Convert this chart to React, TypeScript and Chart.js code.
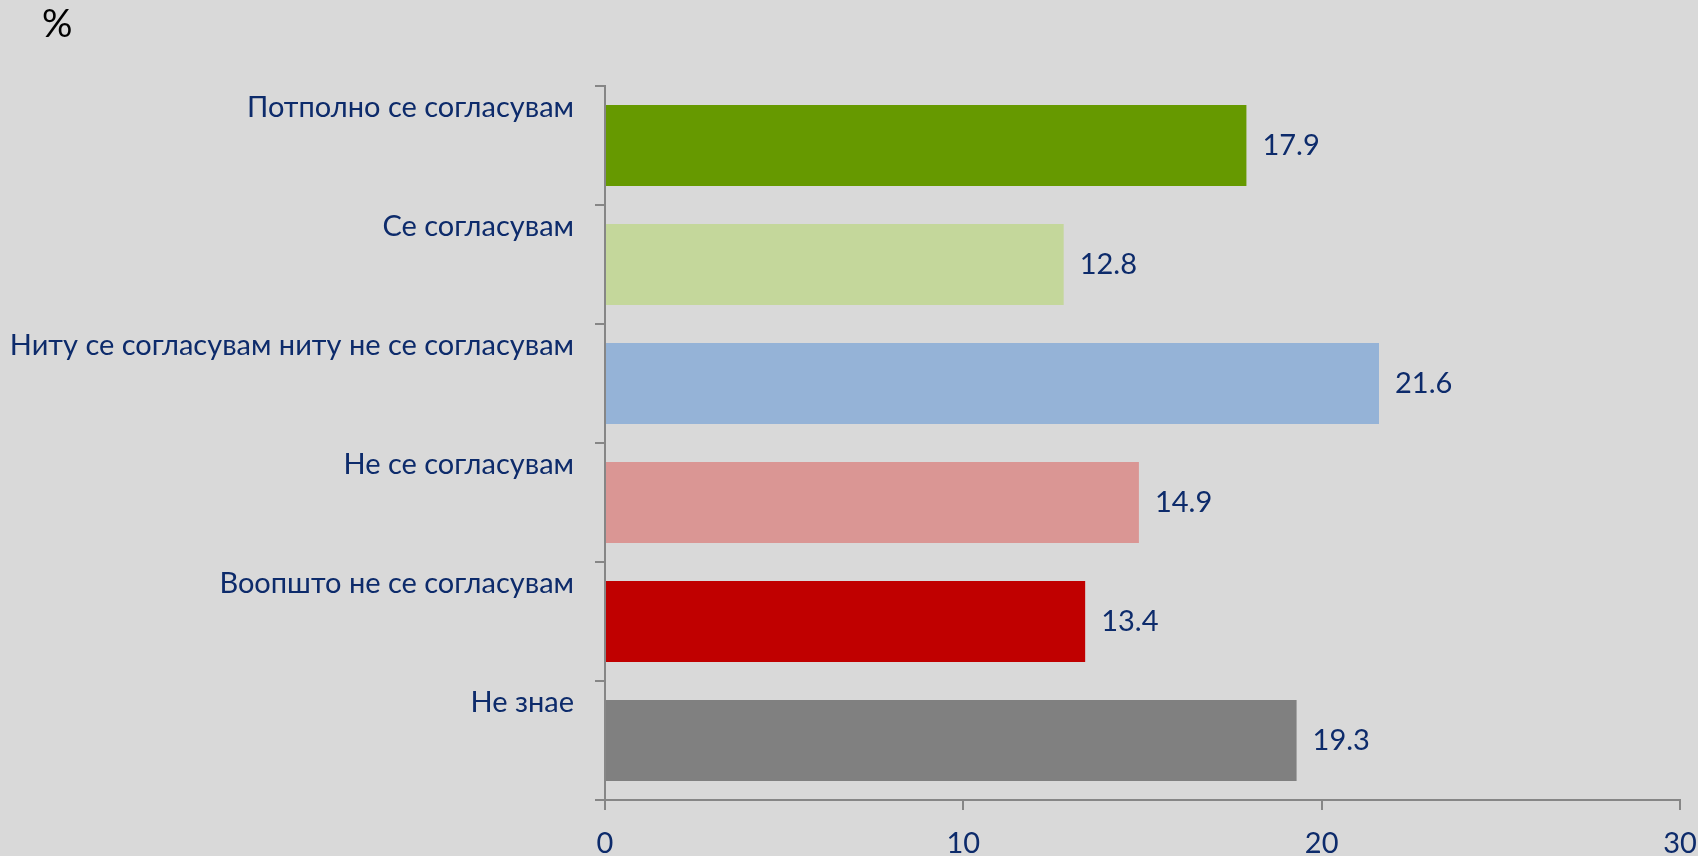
import { useEffect, useRef } from "react";
import { Chart, registerables } from "chart.js";

Chart.register(...registerables);

const categories = [
  "Потполно се согласувам",
  "Се согласувам",
  "Ниту се согласувам ниту не се согласувам",
  "Не се согласувам",
  "Воопшто не се согласувам",
  "Не знае",
];
const values = [17.9, 12.8, 21.6, 14.9, 13.4, 19.3];
const barColors = ["#669900", "#c4d79b", "#95b3d7", "#da9694", "#c00000", "#808080"];
const xMin = 0;
const xMax = 30;
const xStep = 10;
const unitLabel = "%";

const TEXT = "#0d2b6b";
const AXIS = "#868686";
const FONT = "Lato";
const FS = 29;

export default function App() {
  const ref = useRef<HTMLCanvasElement>(null);

  useEffect(() => {
    const valueLabels = {
      id: "valueLabels",
      afterDatasetsDraw(chart: any) {
        const ctx = chart.ctx;
        const meta = chart.getDatasetMeta(0);
        ctx.save();
        ctx.font = `${FS}px ${FONT}`;
        ctx.fillStyle = TEXT;
        ctx.textAlign = "left";
        ctx.textBaseline = "middle";
        meta.data.forEach((el: any, i: number) => {
          const { x, y } = el.getProps(["x", "y"], true);
          ctx.fillText(values[i].toFixed(1), x + 16, y);
        });
        ctx.fillStyle = "#000";
        ctx.font = `38px ${FONT}`;
        ctx.textBaseline = "top";
        ctx.fillText(unitLabel, 42, 6);
        ctx.restore();
      },
    };

    const chart = new Chart(ref.current as HTMLCanvasElement, {
      type: "bar",
      data: {
        labels: categories,
        datasets: [
          {
            data: values,
            backgroundColor: barColors,
            borderWidth: 0,
            barPercentage: 1,
            categoryPercentage: 0.68,
          },
        ],
      },
      options: {
        indexAxis: "y",
        animation: false,
        responsive: false,
        layout: { padding: { top: 86, right: 18, left: 0, bottom: 0 } },
        plugins: { legend: { display: false }, tooltip: { enabled: false } },
        scales: {
          x: {
            min: xMin,
            max: xMax,
            ticks: {
              stepSize: xStep,
              color: TEXT,
              font: { family: FONT, size: FS },
              padding: 16,
              maxRotation: 0,
            },
            grid: {
              drawOnChartArea: false,
              drawTicks: true,
              tickLength: 10,
              color: AXIS,
              lineWidth: 2,
            },
            border: { display: true, color: AXIS, width: 2 },
            afterFit: (s: any) => {
              s.height = 56;
              s.paddingLeft = 0;
              s.paddingRight = 0;
            },
          },
          y: {
            ticks: {
              color: TEXT,
              font: { family: FONT, size: FS },
              padding: 21,
              labelOffset: -38,
              autoSkip: false,
            },
            grid: {
              drawOnChartArea: false,
              drawTicks: true,
              tickLength: 10,
              color: AXIS,
              lineWidth: 2,
              offset: true,
            },
            border: { display: true, color: AXIS, width: 2 },
            afterFit: (s: any) => {
              s.width = 605;
              s.paddingTop = 0;
              s.paddingBottom = 0;
            },
          },
        },
      },
      plugins: [valueLabels],
    } as any);

    return () => chart.destroy();
  }, []);

  return (
    <div
      style={{
        position: "fixed",
        left: 0,
        top: 0,
        width: 1698,
        height: 856,
        background: "#d9d9d9",
      }}
    >
      <canvas ref={ref} width={1698} height={856} style={{ display: "block" }} />
    </div>
  );
}
